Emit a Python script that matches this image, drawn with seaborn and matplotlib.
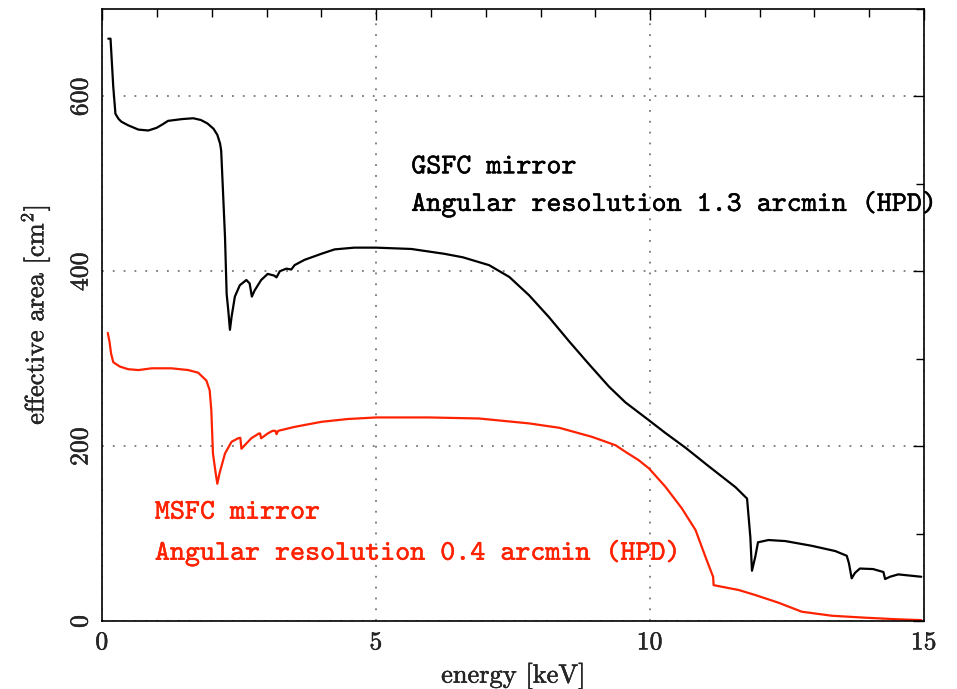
import matplotlib
matplotlib.use("Agg")
import matplotlib.pyplot as plt
import matplotlib.patheffects as pe
import seaborn as sns
import pandas as pd
from matplotlib.ticker import MultipleLocator

# ---- data ----
gsfc_energy = [0.11, 0.15, 0.20, 0.24, 0.30, 0.35, 0.47, 0.66, 0.84, 0.99, 1.10, 1.20,
               1.45, 1.66, 1.80, 1.92, 2.03, 2.10, 2.15, 2.17, 2.20, 2.24, 2.27, 2.30,
               2.33, 2.36, 2.42, 2.51, 2.63, 2.69, 2.73, 2.78, 2.90, 3.02, 3.14, 3.18,
               3.24, 3.36, 3.45, 3.51, 3.69, 4.00, 4.24, 4.60, 5.00, 5.64, 6.24, 6.58,
               7.06, 7.43, 7.79, 8.15, 8.52, 8.88, 9.25, 9.55, 9.98, 10.28, 10.65,
               11.07, 11.56, 11.77, 11.83, 11.86, 11.92, 11.97, 12.16, 12.47, 12.95,
               13.38, 13.59, 13.63, 13.68, 13.74, 13.83, 14.07, 14.26, 14.29, 14.38,
               14.53, 14.95]
gsfc_area = [666, 666, 611, 580, 574, 571, 567, 562, 561, 564, 568, 572,
             574, 575, 573, 569, 563, 556, 546, 538, 496, 439, 374, 355,
             333, 348, 371, 384, 390, 386, 371, 378, 390, 397, 395, 393,
             400, 403, 402, 407, 413, 420, 425, 427, 427, 425.5, 420, 416,
             407, 393.5, 372.6, 347.8, 320, 294, 268, 250, 229.5, 215, 198,
             177, 153, 140, 96, 57.5, 73.5, 90, 92.6, 91.4, 86,
             80, 74.6, 66, 48.8, 55, 60, 59.4, 56, 48, 50.6,
             53.3, 50.6]

msfc_energy = [0.10, 0.13, 0.16, 0.20, 0.32, 0.47, 0.66, 0.90, 1.26, 1.57, 1.75, 1.90,
               1.96, 1.99, 2.02, 2.07, 2.10, 2.14, 2.24, 2.36, 2.48, 2.52, 2.54, 2.63,
               2.72, 2.86, 2.88, 2.90, 3.02, 3.11, 3.16, 3.18, 3.21, 3.51, 4.00, 4.48,
               5.00, 5.97, 6.88, 7.79, 8.34, 8.94, 9.37, 9.55, 9.79, 9.98, 10.28, 10.58,
               10.83, 11.01, 11.15, 11.16, 11.62, 11.92, 12.34, 12.77, 13.32, 13.92,
               14.50, 14.95]
msfc_area = [329.5, 320, 306, 296, 291, 288, 287, 289, 289, 287, 284, 275,
             264, 241, 191.6, 169, 157, 169, 191.6, 205, 209, 209.5, 197, 203,
             209, 214.5, 214.5, 209, 214.5, 217.5, 217.5, 213.7, 217.5, 222, 227.8, 231,
             232.8, 232.8, 231.6, 226, 221, 210.6, 201, 193.5, 184, 174.5, 153.5, 128.8,
             104, 73.5, 50.6, 41, 35.4, 29.7, 21, 10.6, 6, 3.8,
             2, 1]

gsfc_labels = ["GSFC mirror", "Angular resolution 1.3 arcmin (HPD)"]
msfc_labels = ["MSFC mirror", "Angular resolution 0.4 arcmin (HPD)"]
x_label = "energy [keV]"
y_label = "effective area [cm$^2$]"

# ---- styling ----
sns.set_style("white")
plt.rcParams["font.family"] = ["cmr10", "DejaVu Serif"]
plt.rcParams["mathtext.fontset"] = "cm"
plt.rcParams["axes.formatter.use_mathtext"] = True

BLACK = "#000000"
RED = "#ff2200"

fig = plt.figure(figsize=(9.57, 6.89), dpi=100)
ax = fig.add_axes([0.1069, 0.0987, 0.8586, 0.8883])

gsfc_df = pd.DataFrame({"energy": gsfc_energy, "area": gsfc_area})
msfc_df = pd.DataFrame({"energy": msfc_energy, "area": msfc_area})

sns.lineplot(data=gsfc_df, x="energy", y="area", ax=ax, color=BLACK,
             linewidth=1.6, sort=False, estimator=None)
sns.lineplot(data=msfc_df, x="energy", y="area", ax=ax, color=RED,
             linewidth=1.6, sort=False, estimator=None)

ax.set_xlim(0, 15)
ax.set_ylim(0, 700)
ax.xaxis.set_major_locator(MultipleLocator(5))
ax.xaxis.set_minor_locator(MultipleLocator(1))
ax.yaxis.set_major_locator(MultipleLocator(200))
ax.yaxis.set_minor_locator(MultipleLocator(100))

ax.grid(True, which="major", color="#777777", linestyle=(0, (1, 5)), linewidth=1.3)
ax.set_axisbelow(True)

for s in ax.spines.values():
    s.set_visible(True)
    s.set_color("black")
    s.set_linewidth(1.2)

ax.tick_params(which="both", direction="in", top=True, right=True,
               color="black", width=1.0, labelsize=18.5, pad=7)
ax.tick_params(which="major", length=8)
ax.tick_params(which="minor", length=6)
for lab in ax.get_yticklabels():
    lab.set_rotation(90)
    lab.set_va("center")
    lab.set_ha("right")

thick = [pe.withStroke(linewidth=0.3, foreground="black")]
for lab in ax.get_xticklabels() + ax.get_yticklabels():
    lab.set_path_effects(thick)

ax.set_xlabel(x_label, fontsize=19, labelpad=6, path_effects=thick)
ax.set_ylabel(y_label, fontsize=19, labelpad=12, path_effects=thick)

tt = ["cmtt10", "DejaVu Sans Mono"]
FS = 20.6
for txt, y in zip(gsfc_labels, [512, 469]):
    ax.text(5.64, y, txt, color=BLACK, fontsize=FS, family=tt, va="baseline",
            ha="left", clip_on=False,
            path_effects=[pe.withStroke(linewidth=0.3, foreground=BLACK)])
for txt, y in zip(msfc_labels, [117, 70]):
    ax.text(0.96, y, txt, color=RED, fontsize=FS, family=tt, va="baseline",
            ha="left", clip_on=False,
            path_effects=[pe.withStroke(linewidth=0.3, foreground=RED)])

fig.savefig("out.png", dpi=100)
